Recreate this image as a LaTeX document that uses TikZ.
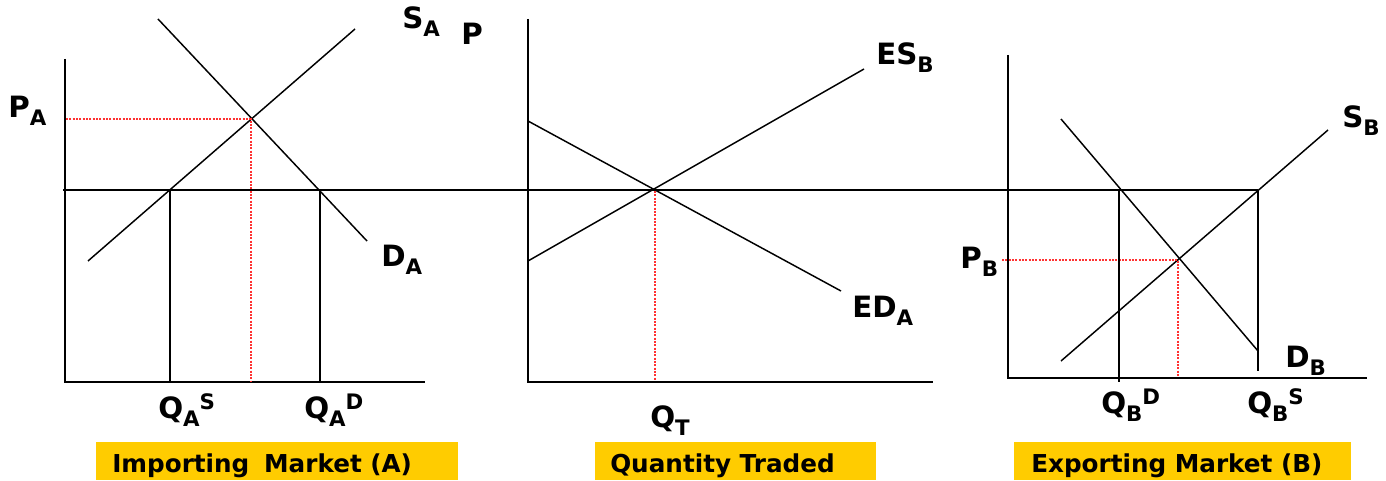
\documentclass[tikz,border=0pt]{standalone}
\usepackage{fontspec}
\setmainfont{DejaVu Sans}
\definecolor{boxyellow}{RGB}{255,204,0}
\definecolor{dotred}{RGB}{255,50,50}
\newcommand\lo[1]{\raisebox{-6pt}{\fontsize{16}{16}\selectfont #1}}
\newcommand\hi[1]{\raisebox{6.5pt}{\fontsize{16}{16}\selectfont #1}}
\begin{document}
\begin{tikzpicture}[x=0.75pt,y=-0.75pt,
  axis/.style={line width=1.5pt,black},
  curve/.style={line width=1.1pt,black},
  guide/.style={line width=1.1pt,black},
  reddot/.style={line width=1pt,dotred,dash pattern=on 1.5pt off 1pt},
  lbl/.style={font=\bfseries\fontsize{22}{22}\selectfont,inner sep=0pt,anchor=base west},
  ybox/.style={fill=boxyellow,draw=none,inner sep=0pt},
  boxtext/.style={font=\bfseries\fontsize{18.5}{18.5}\selectfont,inner sep=0pt,anchor=base west}]
\useasboundingbox (0,0) rectangle (1386,481);
% ---------- Panel A ----------
\coordinate (aT) at (65,59);
\coordinate (aO) at (65,382);
\coordinate (aR) at (425,382);
\draw[axis] (aT) -- (aO) -- (aR);
\coordinate (wL) at (63,190);
\coordinate (wR) at (1258,190);
\draw[guide] (wL) -- (wR);
\coordinate (saS) at (88,261);
\coordinate (saE) at (355,29);
\draw[curve] (saS) -- (saE);
\coordinate (daS) at (158,19);
\coordinate (daE) at (367,241);
\draw[curve] (daS) -- (daE);
\coordinate (eA) at (251,119);
\coordinate (eAy) at (66,119);
\coordinate (eAx) at (251,381);
\draw[reddot] (eAy) -- (eA) -- (eAx);
\coordinate (qasT) at (170,190);
\coordinate (qasB) at (170,382);
\coordinate (qadT) at (320,190);
\coordinate (qadB) at (320,382);
\draw[guide] (qasT) -- (qasB);
\draw[guide] (qadT) -- (qadB);
\node[lbl] (lSA) at (402,29) {S\lo{A}};
\node[lbl] (lPA) at (8,118) {P\lo{A}};
\node[lbl] (lDA) at (381,267) {D\lo{A}};
\node[lbl] (lQAS) at (158,418) {Q\lo{A}\hi{S}};
\node[lbl] (lQAD) at (304,418) {Q\lo{A}\hi{D}};
\node[ybox,minimum width=362*0.75pt,minimum height=38*0.75pt] (boxA) at (277,461) {};
\node[boxtext] (tA) at (112,472) {Importing\hspace{0.6em}Market (A)};
% ---------- Panel B ----------
\coordinate (bT) at (528,19);
\coordinate (bO) at (528,382);
\coordinate (bR) at (933,382);
\draw[axis] (bT) -- (bO) -- (bR);
\coordinate (edS) at (528,121);
\coordinate (edE) at (841,291);
\draw[curve] (edS) -- (edE);
\coordinate (esS) at (528,261);
\coordinate (esE) at (864,69);
\draw[curve] (esS) -- (esE);
\coordinate (eT) at (655,191);
\coordinate (eTx) at (655,381);
\draw[reddot] (eT) -- (eTx);
\node[lbl] (lP) at (461,45) {P};
\node[lbl] (lES) at (876,65) {ES\lo{B}};
\node[lbl] (lED) at (852,317) {ED\lo{A}};
\node[lbl] (lQT) at (650,427) {Q\lo{T}};
\node[ybox,minimum width=281*0.75pt,minimum height=38*0.75pt] (boxB) at (735.5,461) {};
\node[boxtext] (tB) at (610,472) {Quantity Traded};
% ---------- Panel C ----------
\coordinate (cT) at (1008,55);
\coordinate (cO) at (1008,378);
\coordinate (cR) at (1367,378);
\draw[axis] (cT) -- (cO) -- (cR);
\coordinate (dbS) at (1061,119);
\coordinate (dbE) at (1258,351);
\draw[curve] (dbS) -- (dbE);
\coordinate (sbS) at (1061,361);
\coordinate (sbE) at (1328,130);
\draw[curve] (sbS) -- (sbE);
\coordinate (eB) at (1178,260);
\coordinate (eBy) at (1002,260);
\coordinate (eBx) at (1178,377);
\draw[reddot] (eBy) -- (eB) -- (eBx);
\coordinate (qbdT) at (1119,190);
\coordinate (qbdB) at (1119,382);
\coordinate (qbsT) at (1258,190);
\coordinate (qbsB) at (1258,371);
\draw[guide] (qbdT) -- (qbdB);
\draw[guide] (qbsT) -- (qbsB);
\node[lbl] (lSB) at (1342,128) {S\lo{B}};
\node[lbl] (lPB) at (960,268) {P\lo{B}};
\node[lbl] (lDB) at (1285,367) {D\lo{B}};
\node[lbl] (lQBD) at (1101,413) {Q\lo{B}\hi{D}};
\node[lbl] (lQBS) at (1247,413) {Q\lo{B}\hi{S}};
\node[ybox,minimum width=337*0.75pt,minimum height=38*0.75pt] (boxC) at (1182.5,461) {};
\node[boxtext] (tC) at (1031,472) {Exporting Market (B)};
\end{tikzpicture}
\end{document}
